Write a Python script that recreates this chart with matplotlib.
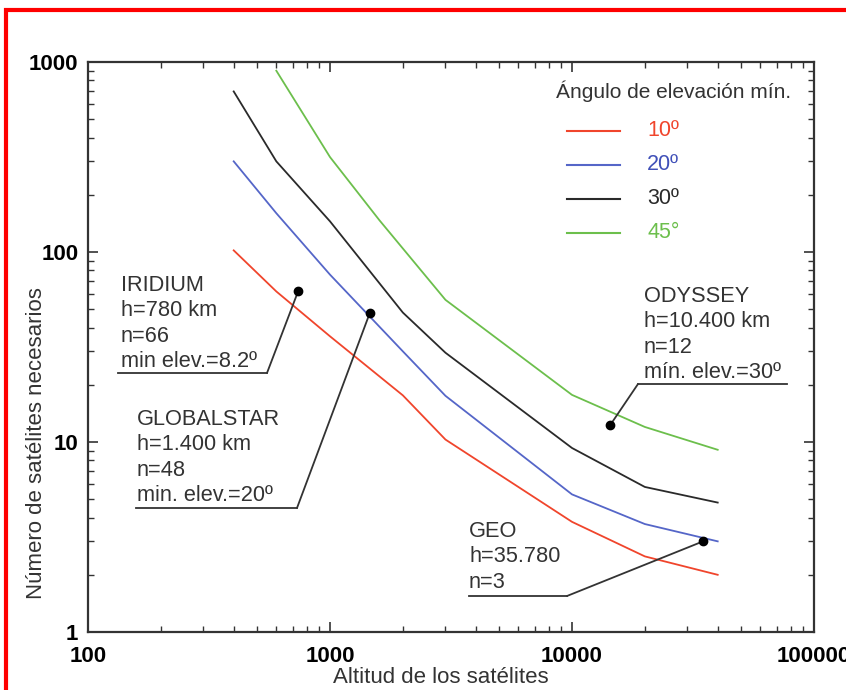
import matplotlib.pyplot as plt
from matplotlib.patches import Rectangle
from matplotlib.ticker import NullFormatter

plt.rcParams["font.family"] = ["Liberation Sans", "DejaVu Sans"]

# ---- datos ----
altitud = [400, 600, 1000, 2000, 3000, 10000, 20000, 40000]
n_10 = [102, 62, 36, 17.6, 10.3, 3.8, 2.5, 2.0]
n_20 = [300, 160, 76, 30, 17.5, 5.3, 3.7, 3.0]
n_30 = [700, 300, 145, 48, 29.5, 9.3, 5.8, 4.8]
altitud_45 = [600, 1000, 1600, 3000, 10000, 20000, 40000]
n_45 = [900, 316, 147, 56, 17.7, 12, 9.1]

angulos = ["10º", "20º", "30º", "45°"]
colores = ["#f0452c", "#5566c8", "#2a2a2a", "#6cbf4c"]
colores_txt = ["#f0452c", "#4050b8", "#2a2a2a", "#6cbf4c"]

textos = [
    ["IRIDIUM", "h=780 km", "n=66", "min elev.=8.2º"],
    ["GLOBALSTAR", "h=1.400 km", "n=48", "min. elev.=20º"],
    ["ODYSSEY", "h=10.400 km", "n=12", "mín. elev.=30º"],
    ["GEO", "h=35.780", "n=3"],
]
punto_x = [738, 1460, 14400, 34800]
punto_y = [62, 47.7, 12.3, 3.0]

xticks = [100, 1000, 10000, 100000]
yticks = [1, 10, 100, 1000]

# ---- figura ----
W, H = 846, 690
fig = plt.figure(figsize=(W / 100, H / 100), dpi=100)
ax = fig.add_axes([88 / W, 1 - 632 / H, 726 / W, 570 / H])


def fpx(x, y):
    return (x / W, 1 - y / H)


series = [(altitud, n_10), (altitud, n_20), (altitud, n_30), (altitud_45, n_45)]
for (xs, ys), c in zip(series, colores):
    ax.plot(xs, ys, color=c, lw=1.3)

ax.set_xscale("log")
ax.set_yscale("log")
ax.set_xlim(100, 100000)
ax.set_ylim(1, 1000)
ax.set_xticks(xticks, labels=[str(v) for v in xticks], fontweight="bold", fontsize=16)
ax.set_yticks(yticks, labels=[str(v) for v in yticks], fontweight="bold", fontsize=16)
ax.xaxis.set_minor_formatter(NullFormatter())
ax.yaxis.set_minor_formatter(NullFormatter())
ax.tick_params(which="both", direction="in", top=True, right=True, color="#333")
ax.tick_params(which="major", length=7, width=1.2)
ax.tick_params(which="minor", length=4, width=1)
ax.tick_params(axis="x", pad=10)
ax.tick_params(axis="y", pad=7)
for s in ax.spines.values():
    s.set_linewidth(1.6)
    s.set_color("#333")

fig.text(441 / W, 1 - 683 / H, "Altitud de los satélites", ha="center",
         va="baseline", fontsize=16, color="#333")
fig.text(37 / W, 1 - 443 / H, "Número de satélites necesarios", ha="center",
         va="center", rotation=90, fontsize=16, color="#333")

# ---- leyenda manual ----
fig.text(*fpx(556, 98), "Ángulo de elevación mín.", ha="left", va="baseline",
         fontsize=15, color="#333")
for i, (lab, c, ct) in enumerate(zip(angulos, colores, colores_txt)):
    y = 131 + 34 * i
    fig.add_artist(plt.Line2D([567 / W, 620 / W], [1 - y / H] * 2, color=c, lw=1.5))
    fig.text(*fpx(647, y), lab, ha="left", va="center", fontsize=15.5, color=ct)

# ---- anotaciones ----
# (x texto, primera linea base, x subrayado ini, x subrayado fin, y subrayado, codo x)
layout = [
    (121, 291, 118, 267, 373, 267),
    (137, 425, 136, 297, 508, 297),
    (644, 302, 787, 638, 384, 638),
    (469, 537, 469, 567, 596, 567),
]
for lines, px, py, (tx, ty, ux0, ux1, uy, ex) in zip(textos, punto_x, punto_y, layout):
    for k, ln in enumerate(lines):
        fig.text(*fpx(tx, ty + 25.4 * k), ln, ha="left", va="baseline",
                 fontsize=15.7, color="#333")
    fig.add_artist(plt.Line2D([ux0 / W, ux1 / W], [1 - uy / H] * 2, color="#333", lw=1.3))
    ax.annotate("", xy=(px, py), xycoords="data", xytext=fpx(ex, uy),
                textcoords="figure fraction",
                arrowprops=dict(arrowstyle="-", color="#333", lw=1.3,
                                shrinkA=0, shrinkB=0))
    ax.plot(px, py, "o", color="black", ms=6, zorder=5)

# borde rojo
fig.add_artist(Rectangle((6 / W, -0.1), 1.2, 1.1 - 10 / H, transform=fig.transFigure,
                         fill=False, ec="red", lw=3))

fig.savefig("out.png", dpi=100)
